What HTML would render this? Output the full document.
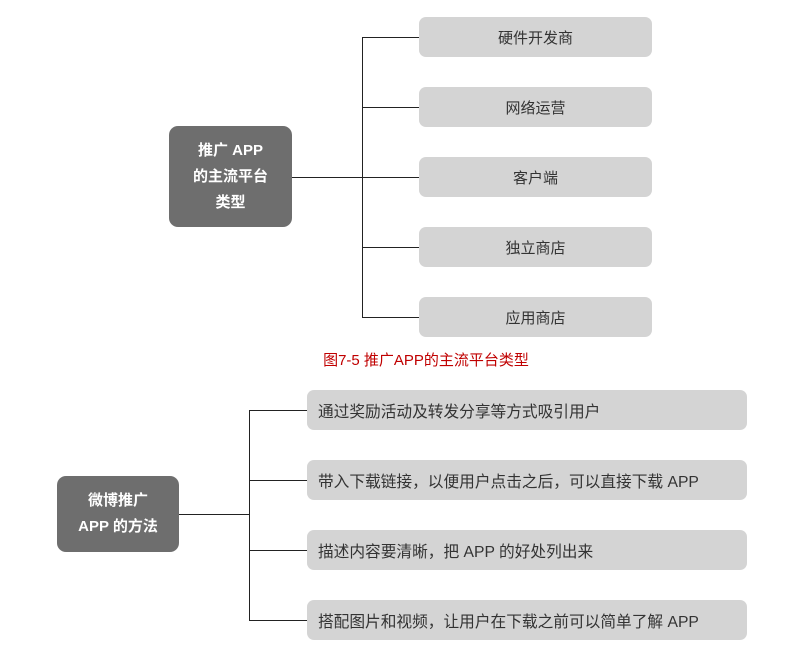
<!DOCTYPE html><html><head><meta charset="utf-8"><style>
body{margin:0;width:798px;height:648px;background:#fff;position:relative;font-family:"Liberation Sans","Noto Sans CJK SC",sans-serif;overflow:hidden}
.b{position:absolute;background:#d4d4d4;border-radius:7px;color:#333;font-size:15px;display:flex;align-items:center}
.c{position:absolute;background:#6e6e6e;border-radius:9px;color:#fff;font-size:15px;font-weight:bold;text-align:center;display:flex;align-items:center;justify-content:center;line-height:26px}
.l{position:absolute;background:#222}
.w{font-size:15.7px}
</style></head><body>
<div class="c" style="left:169px;top:126px;width:123px;height:101px">推广 APP<br>的主流平台<br>类型</div>
<div class="l" style="left:292px;top:177px;width:127px;height:1px"></div>
<div class="l" style="left:362px;top:37px;width:1px;height:280px"></div>
<div class="l" style="left:362px;top:37px;width:57px;height:1px"></div>
<div class="l" style="left:362px;top:107px;width:57px;height:1px"></div>
<div class="l" style="left:362px;top:247px;width:57px;height:1px"></div>
<div class="l" style="left:362px;top:317px;width:57px;height:1px"></div>
<div class="b" style="left:419px;top:17px;width:233px;height:40px;justify-content:center">硬件开发商</div>
<div class="b" style="left:419px;top:87px;width:233px;height:40px;justify-content:center">网络运营</div>
<div class="b" style="left:419px;top:157px;width:233px;height:40px;justify-content:center">客户端</div>
<div class="b" style="left:419px;top:227px;width:233px;height:40px;justify-content:center">独立商店</div>
<div class="b" style="left:419px;top:297px;width:233px;height:40px;justify-content:center">应用商店</div>
<div style="position:absolute;left:0;width:852px;top:349px;text-align:center;color:#c00000;font-size:15px">图7-5 推广APP的主流平台类型</div>
<div class="c" style="left:57px;top:476px;width:122px;height:76px">微博推广<br>APP 的方法</div>
<div class="l" style="left:179px;top:514px;width:70px;height:1px"></div>
<div class="l" style="left:249px;top:410px;width:1px;height:210px"></div>
<div class="l" style="left:249px;top:410px;width:58px;height:1px"></div>
<div class="l" style="left:249px;top:480px;width:58px;height:1px"></div>
<div class="l" style="left:249px;top:550px;width:58px;height:1px"></div>
<div class="l" style="left:249px;top:620px;width:58px;height:1px"></div>
<div class="b w" style="left:307px;top:390px;width:429px;height:40px;padding-left:11px">通过奖励活动及转发分享等方式吸引用户</div>
<div class="b w" style="left:307px;top:460px;width:429px;height:40px;padding-left:11px">带入下载链接，以便用户点击之后，可以直接下载 APP</div>
<div class="b w" style="left:307px;top:530px;width:429px;height:40px;padding-left:11px">描述内容要清晰，把 APP 的好处列出来</div>
<div class="b w" style="left:307px;top:600px;width:429px;height:40px;padding-left:11px">搭配图片和视频，让用户在下载之前可以简单了解 APP</div>
</body></html>
